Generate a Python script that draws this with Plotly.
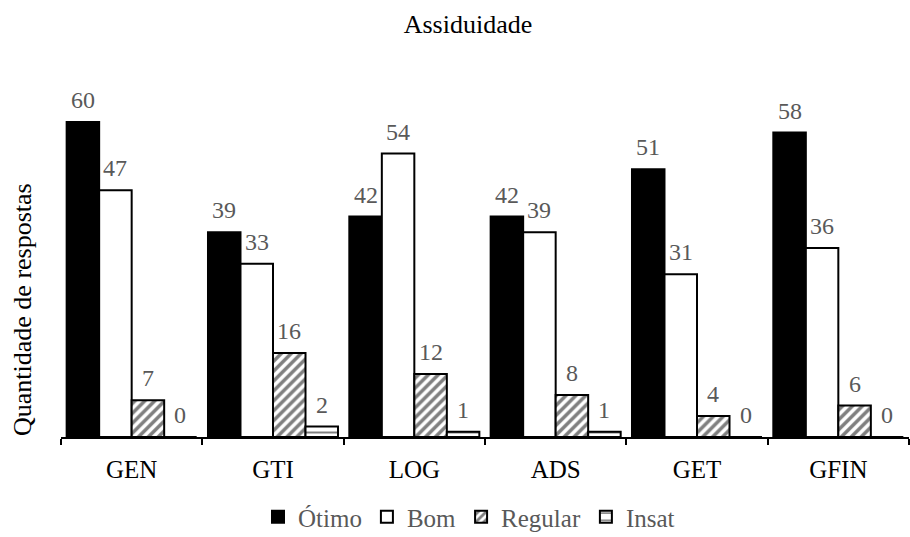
import plotly.graph_objects as go

categories = ["GEN", "GTI", "LOG", "ADS", "GET", "GFIN"]
otimo = [60, 39, 42, 42, 51, 58]
bom = [47, 33, 54, 39, 31, 36]
regular = [7, 16, 12, 8, 4, 6]
insat = [0, 2, 1, 1, 0, 0]

FONT = "Times New Roman, Liberation Serif, Tinos, serif"
GRAY = "#595959"

WIDTH, HEIGHT = 910, 537
MARGIN = dict(l=61, r=1, t=59, b=100, autoexpand=False)
BARGAP = 0.08

series = [
    ("Ótimo", otimo, dict(color="black")),
    ("Bom", bom, dict(color="white")),
    ("Regular", regular, dict(color="white", pattern=dict(shape="/", fgcolor="black", bgcolor="white", size=7, solidity=0.5))),
    ("Insat", insat, dict(color="white", pattern=dict(shape="-", fgcolor="black", bgcolor="white", size=9, solidity=0.22))),
]

fig = go.Figure()
for name, vals, mk in series:
    fig.add_trace(go.Bar(
        name=name,
        x=categories,
        y=vals,
        marker=dict(line=dict(color="black", width=2), **mk),
        cliponaxis=False,
    ))

# value labels above each bar, shifted sideways to the bar's slot within its group
plot_w = WIDTH - MARGIN["l"] - MARGIN["r"]
bar_w = plot_w / len(categories) * (1 - BARGAP) / len(series)
for i, (name, vals, _) in enumerate(series):
    dx = (i - (len(series) - 1) / 2) * bar_w
    for cat, v in zip(categories, vals):
        fig.add_annotation(
            x=cat, y=v, xref="x", yref="y", text=str(v), showarrow=False,
            xshift=dx, yshift=22, yanchor="middle",
            font=dict(family=FONT, size=24, color=GRAY),
        )

fig.update_layout(
    width=WIDTH,
    height=HEIGHT,
    margin=MARGIN,
    paper_bgcolor="white",
    plot_bgcolor="white",
    barmode="group",
    bargap=BARGAP,
    bargroupgap=0,
    font=dict(family=FONT, size=25, color="black"),
    title=dict(text="Assiduidade", x=468 / WIDTH, xanchor="center", y=1 - 24 / HEIGHT, yanchor="middle",
               font=dict(family=FONT, size=26, color="black")),
    xaxis=dict(
        showline=True, linecolor="black", linewidth=2,
        ticks="outside", tickson="boundaries", ticklen=6, tickcolor="black", tickwidth=2,
        ticklabelstandoff=9,
        tickfont=dict(family=FONT, size=25, color="black"),
        showgrid=False,
    ),
    yaxis=dict(range=[0, 72], showticklabels=False, showgrid=False, zeroline=False,
               showline=False, ticks=""),
    legend=dict(orientation="h", x=(469 - 61) / 848, xanchor="center", y=-(517 - 437) / 378, yanchor="middle",
                font=dict(family=FONT, size=25, color=GRAY), itemwidth=30,
                traceorder="normal", tracegroupgap=0),
    showlegend=True,
)

fig.add_annotation(
    text="Quantidade de respostas", xref="paper", yref="paper",
    x=0, y=(437 - 310) / 378, xanchor="center", yanchor="middle", xshift=-39,
    textangle=-90, showarrow=False,
    font=dict(family=FONT, size=26, color="black"),
)

fig.write_html("out.html")
